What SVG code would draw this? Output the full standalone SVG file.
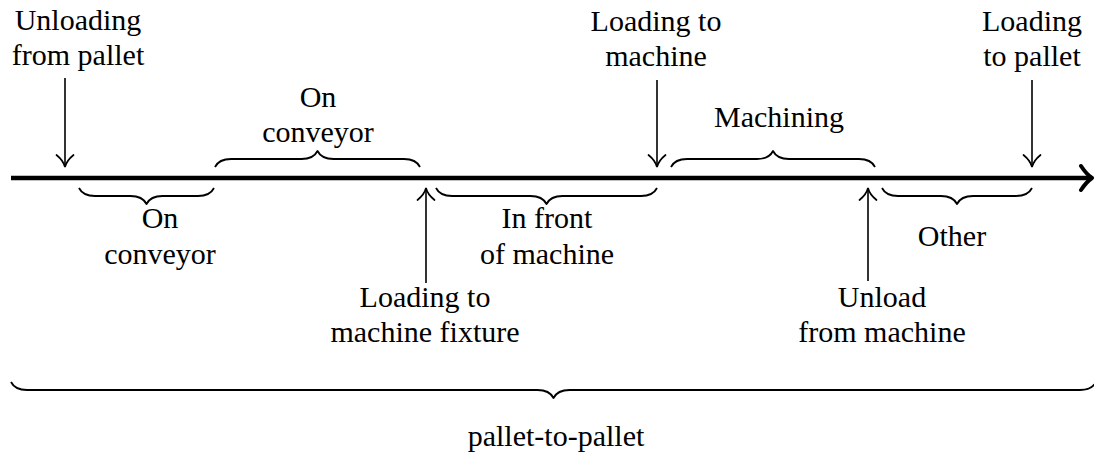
<svg xmlns="http://www.w3.org/2000/svg" width="1094" height="465" viewBox="0 0 1094 465">
  <style>
    .lbl { font-size: 30px; fill: #000; text-anchor: middle; }
    .axis { fill: none; stroke: #000; stroke-width: 4.5; }
    .axis-tip { fill: none; stroke: #000; stroke-width: 4; stroke-linecap: round; stroke-linejoin: round; }
    .arrow { fill: none; stroke: #000; stroke-width: 1.6; marker-end: url(#to); }
    .brace { fill: none; stroke: #000; stroke-width: 1.8; stroke-linejoin: round; }
  </style>
  <defs>
    <marker id="to" markerUnits="userSpaceOnUse" viewBox="-14 -10 16 20" markerWidth="16" markerHeight="20" refX="0" refY="0" orient="auto" overflow="visible">
      <path d="M -12 -8.5 C -7.5 -3 -2.5 -0.6 0 0 C -2.5 0.6 -7.5 3 -12 8.5" fill="none" stroke="#000" stroke-width="1.7" stroke-linecap="round"/>
    </marker>
  </defs>

  <!-- time axis -->
  <g id="axis">
    <line class="axis" x1="11" y1="178" x2="1090" y2="178"/>
    <path class="axis-tip" d="M 1081 166 C 1085 172 1089 176 1092 178 C 1089 180 1085 184 1081 190"/>
  </g>

  <!-- arrows and braces -->
  <g id="connectors">
    <!-- event arrows from above -->
    <line class="arrow" x1="65" y1="78" x2="65" y2="167"/>
    <line class="arrow" x1="657" y1="80" x2="657" y2="167"/>
    <line class="arrow" x1="1032" y1="80" x2="1032" y2="167"/>
    <!-- event arrows from below -->
    <line class="arrow" x1="426" y1="283" x2="426" y2="188"/>
    <line class="arrow" x1="868" y1="281" x2="868" y2="188"/>

    <!-- braces above the axis (tip up), amplitude 16 -->
    <path class="brace" d="M 215 167 C 217.4 162.2 223 159 231 159 L 301.5 159 C 309.5 159 315.1 155.8 317.5 151 C 319.9 155.8 325.5 159 333.5 159 L 404 159 C 412 159 417.6 162.2 420 167"/>
    <path class="brace" d="M 671 167 C 673.4 162.2 679 159 687 159 L 757 159 C 765 159 770.6 155.8 773 151 C 775.4 155.8 781 159 789 159 L 859 159 C 867 159 872.6 162.2 875 167"/>

    <!-- braces below the axis (tip down) -->
    <path class="brace" d="M 79 188 C 81.4 192.8 87 196 95 196 L 130.5 196 C 138.5 196 144.1 199.2 146.5 204 C 148.9 199.2 154.5 196 162.5 196 L 198 196 C 206 196 211.6 192.8 214 188"/>
    <path class="brace" d="M 436 188 C 438.4 192.8 444 196 452 196 L 530.5 196 C 538.5 196 544.1 199.2 546.5 204 C 548.9 199.2 554.5 196 562.5 196 L 641 196 C 649 196 654.6 192.8 657 188"/>
    <path class="brace" d="M 882 188 C 884.4 192.8 890 196 898 196 L 941 196 C 949 196 954.6 199.2 957 204 C 959.4 199.2 965 196 973 196 L 1016 196 C 1024 196 1029.6 192.8 1032 188"/>

    <!-- overall span -->
    <path class="brace" d="M 11 382 C 13.4 386.8 19 390 27 390 L 537.5 390 C 545.5 390 551.1 393.2 553.5 398 C 555.9 393.2 561.5 390 569.5 390 L 1080 390 C 1088 390 1093.6 386.8 1096 382"/>
  </g>

  <!-- labels -->
  <g id="labels" class="lbl" font-family="Liberation Serif, DejaVu Serif, serif">
    <g id="unloading-from-pallet">
      <text x="78" y="30">Unloading</text>
      <text x="78" y="65">from pallet</text>
    </g>
    <g id="loading-to-machine">
      <text x="656" y="31">Loading to</text>
      <text x="656" y="66">machine</text>
    </g>
    <g id="loading-to-pallet">
      <text x="1032" y="31">Loading</text>
      <text x="1032" y="66">to pallet</text>
    </g>
    <g id="on-conveyor-upper">
      <text x="318" y="107">On</text>
      <text x="318" y="142">conveyor</text>
    </g>
    <g id="machining">
      <text x="779" y="127">Machining</text>
    </g>
    <g id="on-conveyor-lower">
      <text x="160" y="228">On</text>
      <text x="160" y="264">conveyor</text>
    </g>
    <g id="in-front-of-machine">
      <text x="547" y="228">In front</text>
      <text x="547" y="264">of machine</text>
    </g>
    <g id="loading-to-machine-fixture">
      <text x="425" y="307">Loading to</text>
      <text x="425" y="342">machine fixture</text>
    </g>
    <g id="other">
      <text x="952" y="246">Other</text>
    </g>
    <g id="unload-from-machine">
      <text x="882" y="307">Unload</text>
      <text x="882" y="342">from machine</text>
    </g>
    <g id="pallet-to-pallet">
      <text x="556" y="446">pallet-to-pallet</text>
    </g>
  </g>
</svg>
